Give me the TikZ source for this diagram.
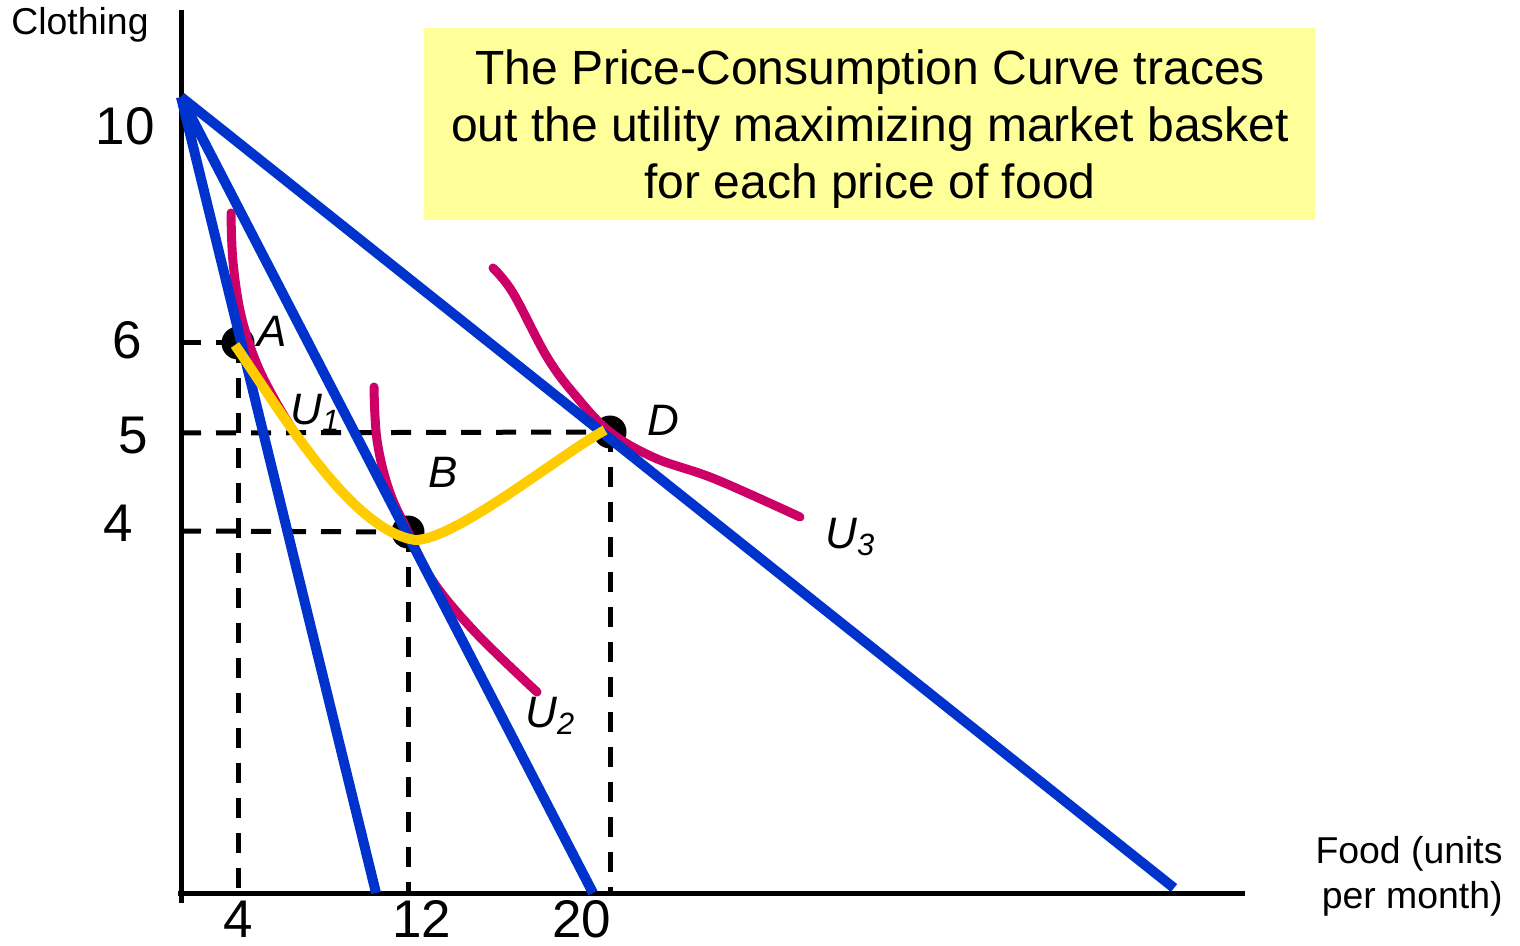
\documentclass[tikz,border=0pt]{standalone}
\usepackage{fontspec}
\setmainfont{Liberation Sans}
\definecolor{bline}{RGB}{0,51,204}
\definecolor{icurve}{RGB}{204,0,102}
\definecolor{pcc}{RGB}{255,204,0}
\definecolor{boxfill}{RGB}{255,255,153}
\tikzset{
  axisline/.style={line width=2.5pt,black},
  guide/.style={line width=2.5pt,black,dash pattern=on 10pt off 7.5pt},
  budget/.style={line width=5pt,bline},
  indiff/.style={line width=4.5pt,icurve,line cap=round},
  pccline/.style={line width=5pt,pcc},
  dot/.style={circle,fill=black,inner sep=0pt,minimum size=16.5pt},
  ticklab/.style={font=\fontsize{26.5}{30}\selectfont,inner sep=0pt},
  ptlab/.style={font=\fontsize{22}{26}\selectfont\itshape,inner sep=0pt},
  axlab/.style={font=\fontsize{18.7}{22.5}\selectfont,inner sep=0pt},
}
\begin{document}
\begin{tikzpicture}[x=0.5pt,y=-0.5pt]
\useasboundingbox (0,0) rectangle (1520,946);
% key coordinates
\coordinate (ytop) at (181,10);
\coordinate (ybot) at (181,903);
\coordinate (xstart) at (178,893);
\coordinate (xend) at (1245,893);
\coordinate (I) at (181,97);
\coordinate (E1) at (376,893);
\coordinate (E2) at (593,893);
\coordinate (E3) at (1174,888);
\coordinate (yA) at (181,343);
\coordinate (yD) at (181,433);
\coordinate (yB) at (181,531);
\coordinate (xA) at (238,893);
\coordinate (xB) at (408,893);
\coordinate (xD) at (610,893);
% box
\node[fill=boxfill,minimum width=445.5pt,minimum height=96pt,inner sep=0pt,anchor=north west] (box) at (424,28) {};
\node[align=center,font=\fontsize{24}{28.5}\selectfont,inner sep=0pt] (boxtext) at (870,129)
  {The Price-Consumption Curve traces\\out the utility maximizing market basket\\for each price of food};
% axes
\draw[axisline] (ytop) -- (ybot);
\draw[axisline] (xstart) -- (xend);
% dots
\node[dot] (A) at (238,343) {};
\node[dot] (B) at (408,532) {};
\node[dot] (D) at (610,432) {};
% guides
\draw[guide] (yA) -- (A.center);
\draw[guide] (yD) -- (D.center);
\draw[guide] (yB) -- (B.center);
\draw[guide] (A.center) -- (xA);
\draw[guide] (B.center) -- (xB);
\draw[guide] (D.center) -- (xD);
% indifference curves
\draw[indiff] plot[smooth,tension=0.6] coordinates {(231,213) (233,262) (241,315) (256,362) (276,402) (298,438)};
\draw[indiff] plot[smooth,tension=0.6] coordinates {(374,387) (377,440) (389,490) (408,532) (432,580) (475,632) (537,692)};
\draw[indiff] plot[smooth,tension=0.6] coordinates {(493,268) (513,293) (547,357) (575,395) (610,432) (655,458) (715,479) (800,517)};
% budget lines
\draw[budget] (I) -- (E1);
\draw[budget] (I) -- (E2);
\draw[budget] (I) -- (E3);
% price-consumption curve
\draw[pccline] (235,345) .. controls (280,410) and (350,530) .. (415,540)
                         .. controls (455,540) and (560,455) .. (605,430);
% labels
\node[axlab] (ylab) at (80,25) {Clothing};
\node[axlab,align=right,anchor=east] (xlab) at (1503,876) {Food (units\hspace{4.5pt}\\per month)};
\node[ticklab,anchor=east] (t10) at (155,126) {10};
\node[ticklab] (t6) at (127,340) {6};
\node[ticklab] (t5) at (133,436) {5};
\node[ticklab] (t4) at (118,523) {4};
\node[ticklab] (x4) at (238,919) {4};
\node[ticklab] (x12) at (422,919) {12};
\node[ticklab] (x20) at (582,919) {20};
\node[ptlab] (lA) at (272,331) {A};
\node[ptlab] (lB) at (443,472) {B};
\node[ptlab] (lD) at (663,420) {D};
\node[ptlab,anchor=west] (lU1) at (290,413) {U\textsubscript{\itshape 1}};
\node[ptlab,anchor=west] (lU2) at (525,716) {U\textsubscript{\itshape 2}};
\node[ptlab,anchor=west] (lU3) at (825,537) {U\textsubscript{\itshape 3}};
\end{tikzpicture}
\end{document}
